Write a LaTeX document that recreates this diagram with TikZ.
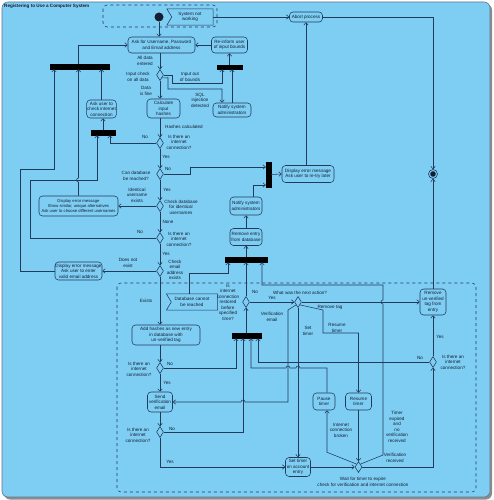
\documentclass[tikz,border=0pt]{standalone}
\usepackage{fontspec}
\setmainfont{Liberation Sans}
\usetikzlibrary{shapes.geometric,arrows.meta,calc}
\definecolor{bg}{RGB}{126,206,244}
\definecolor{ln}{RGB}{34,58,92}
\definecolor{tx}{RGB}{20,30,50}
\begin{document}
\begin{tikzpicture}[x=1pt,y=-1pt,
  font=\fontsize{4.6}{5.5}\selectfont,
  act/.style={draw=ln, rounded corners=3.5pt, align=center, inner sep=0.5pt, line width=0.55pt, text=tx},
  lab/.style={align=center, inner sep=0pt, text=tx},
  dec/.style={diamond, draw=ln, minimum width=7pt, minimum height=11pt, inner sep=0pt, line width=0.55pt},
  barh/.style={fill=black, draw=black, inner sep=0pt, line width=0.3pt},
  flow/.style={draw=ln, line width=0.55pt, -{Straight Barb[length=2.5pt,width=4.5pt]}},
  plain/.style={draw=ln, line width=0.55pt},
]
\useasboundingbox (0,0) rectangle (493,500);
\fill[black!45, rounded corners=6pt] (4,4) rectangle (492,499.5);
\draw[draw=ln!70, fill=bg, rounded corners=6pt, line width=0.6pt] (2,2) rectangle (490,497);
\node[anchor=west, font=\bfseries\fontsize{4.6}{5.5}\selectfont, text=tx, inner sep=0] (title) at (4,6.5) {Registering to Use a Computer System};

% regions
\draw[ln, dashed, line width=0.55pt, rounded corners=4pt] (103,5) rectangle (217,27);
\draw[ln, dashed, line width=0.55pt, rounded corners=4pt] (117,283) rectangle (476,492);

% start / end
\node[circle, fill=tx, minimum size=9pt, inner sep=0] (init) at (159,17) {};
\node[circle, draw=ln, line width=0.6pt, minimum size=9pt, inner sep=0] (final) at (433,174) {};
\fill[tx] (final) circle (2.8);

% accept event shapes
\node[lab, minimum width=46pt, minimum height=16pt] (snw) at (190,17) {System not\\working};
\draw[plain] (snw.north west) -- (snw.north east) -- (snw.south east) -- (snw.south west) -- ($(snw.west)+(5,0)$) -- cycle;
\node[lab, minimum width=51pt, minimum height=16pt] (dbcr) at (192,302) {Database cannot\\be reached};
\draw[plain] (dbcr.north west) -- (dbcr.north east) -- (dbcr.south east) -- (dbcr.south west) -- ($(dbcr.west)+(5,0)$) -- cycle;

% actions
\node[act, minimum width=67pt, minimum height=16pt] (ask) at (161.5,45) {Ask for Username, Password\\and Email address};
\node[act, minimum width=36pt, minimum height=16pt] (reinf) at (229.5,45) {Re-inform user\\of input bounds};
\node[act, minimum width=33pt, minimum height=10pt] (abort) at (306,17) {Abort process};
\node[act, minimum width=33pt, minimum height=19pt] (calc) at (163.5,108.5) {Calculate\\input\\hashes};
\node[act, minimum width=38pt, minimum height=14pt] (notify1) at (232,110) {Notify system\\administrators};
\node[act, minimum width=29pt, minimum height=18pt] (askinet) at (101.5,109) {Ask user to\\check internet\\connection};
\node[act, minimum width=52pt, minimum height=17pt] (retry) at (308,174) {Display error message\\Ask user to re-try later};
\node[act, minimum width=79pt, minimum height=20pt, font=\fontsize{4.2}{5.4}\selectfont] (similar) at (78.5,206) {Display error message\\Show similar, unique alternatives\\Ask user to choose different usernames};
\node[act, minimum width=47pt, minimum height=18pt] (email) at (78.5,271) {Display error message\\Ask user to enter\\valid email address};
\node[act, minimum width=32pt, minimum height=18pt] (notify2) at (246,206) {Notify system\\administrators};
\node[act, minimum width=32pt, minimum height=17pt] (remove) at (246,237) {Remove entry\\from database};
\node[act, minimum width=68pt, minimum height=20pt] (addh) at (166,335) {Add hashes as new entry\\in database with\\un-verified tag};
\node[act, minimum width=25pt, minimum height=20pt] (send) at (160,402) {Send\\verification\\email};
\node[act, minimum width=25pt, minimum height=19pt] (settimer) at (298,467) {Set timer\\on account\\entry};
\node[act, minimum width=22pt, minimum height=17pt] (pause) at (324,401.5) {Pause\\timer};
\node[act, minimum width=26pt, minimum height=17pt] (resume) at (358.5,401.5) {Resume\\timer};
\node[act, minimum width=26pt, minimum height=26pt] (rtag) at (433,302) {Remove\\un-verified\\tag from\\entry};

% decisions
\node[dec] (d1) at (160,75) {};
\node[dec] (d2) at (160,143) {};
\node[dec] (d4) at (160,174) {};
\node[dec] (d5) at (160,206) {};
\node[dec] (d3) at (160,238) {};
\node[dec] (d6) at (160,271) {};
\node[dec] (d7) at (160,368) {};
\node[dec] (d8) at (160,432) {};
\node[dec] (drest) at (246,302) {};
\node[dec] (dnext) at (298,302) {};
\node[dec] (d9) at (433,362) {};
\node[dec] (dwait) at (358.5,467) {};

% bars
\node[barh, minimum width=59pt, minimum height=5pt] (bar1) at (79.5,66.5) {};
\node[barh, minimum width=25pt, minimum height=4pt] (barr) at (229.5,67) {};
\node[barh, minimum width=24pt, minimum height=5pt] (bar2) at (103,132.5) {};
\node[barh, minimum width=5pt, minimum height=25pt] (bar3) at (268.5,174.5) {};
\node[barh, minimum width=42pt, minimum height=5pt] (bar4) at (246,259.5) {};
\node[barh, minimum width=29pt, minimum height=5pt] (bar5) at (246.5,335.5) {};

% edges top part
\draw[flow] (init) -- (init |- ask.north);
\draw[flow] (snw.east) -- (abort.west);
\draw[flow] (abort.east) -| (final.north);
\draw[flow] (ask.south -| d1) -- (d1.north);
\draw[flow] (d1.south) -- (d1 |- calc.north);
\draw[flow] (d1.east) -- (172,75) -- (172,83) -- (222,83) -- (222,0 |- barr.south);
\draw[flow] (d1.south east) -- (168,77.75) -- (168,89) -- (222,89) -- (222,0 |- notify1.north);
\draw[flow] (notify1.north) -- (notify1.north |- barr.south);
\draw[flow] (barr.north) -- (reinf.south);
\draw[flow] (reinf.west) -- (ask.east);
\draw[flow] (calc.south -| d2) -- (d2.north);
\draw[flow] (d2.south) -- (d4.north);
\draw[flow] (d4.south) -- (d5.north);
\draw[flow] (d5.south) -- (d3.north);
\draw[flow] (d3.south) -- (d6.north);
\draw[flow] (d2.west) -| ([xshift=7pt]bar2.south);
\draw[flow] (bar2.north) -- (bar2.north |- askinet.south);
\draw[flow] (askinet.north) -- (askinet.north |- bar1.south);
\draw[flow] ([xshift=-1.5pt]bar1.north) |- (ask.west);
\draw[flow] (similar.north) -- (78.5,182) arc[start angle=90, end angle=270, radius=2] -- (78.5,0 |- bar1.south);
\draw[flow] (d3.west) -- (30,238) -- (30,180) -- (97,180) -- ([xshift=-6pt]bar2.south);
\draw[flow] (email.west) -- (20,271) -- (20,169) -- (54,169) -- (54,0 |- bar1.south);
\draw[flow] (d5.west) -- (similar.east);
\draw[flow] (d6.west) -- (email.east);
\draw[flow] (d4.east) -- (190,174) -- (190,167) -- ([yshift=7.5pt]bar3.west);
\draw[flow] ([xshift=7pt]notify2.north) |- ([yshift=-10.5pt]bar3.west);
\draw[flow] (bar3.east) -- (retry.west);
\draw[flow] ([xshift=-2pt]retry.north) -- (abort.south);
\draw[flow] (remove.north) -- (notify2.south);
\draw[flow] (bar4.north) -- (remove.south);

% edges lower part
\draw[flow] (d6.south) -- (d6 |- addh.north);
\draw[flow] ([xshift=-3pt]dbcr.north) -- ++(0,-21) -| ([xshift=-18pt]bar4.south);
\draw[flow] (drest.north) -- (bar4.south);
\draw[flow] (dwait.north east) -- (383,455) -- (383,304) arc[start angle=90, end angle=270, radius=2] -- (383,285) -- (262,285) -- ([xshift=16pt]bar4.south);
\draw[flow] (drest.east) -- (dnext.west);
\draw[flow] (drest |- bar5.north) -- (drest.south);
\draw[flow] (addh.south -| d7) -- (d7.north);
\draw[flow] (d7.south) -- (send.north);
\draw[flow] (send.south) -- (d8.north);
\draw[flow] (d7.east) -| ([xshift=-10.5pt]bar5.south);
\draw[flow] (d8.east) -| ([xshift=-3.5pt]bar5.south);
\draw[flow] (d8.south) |- (settimer.west);
\draw[flow] (settimer.east) -- (dwait.west);
\draw[flow] (dnext.south) -- (settimer.north);
\draw[flow] (dnext.south west) -- (288,310) -- (288,402) -- (245,402) arc[start angle=0, end angle=-180, radius=2] -- (send.east);
\draw[flow] (dnext.east) -- (rtag.west);
\draw[flow] (dnext.south east) -- (323,310) -- (323,333) -- (358.5,333) -- (resume.north);
\draw[flow] ([xshift=3pt]pause.north) -- (327,368) -- (300,368) arc[start angle=0, end angle=-180, radius=2] -- (290,368) arc[start angle=0, end angle=-180, radius=2] -- (251,368) -- ([xshift=4.5pt]bar5.south);
\draw[flow] (dwait.north west) -- ($(pause.south)+(3,42)$) -- ([xshift=3pt]pause.south);
\draw[flow] (resume.south) -- (dwait.north);
\draw[flow] (dwait.east) -| (d9.south);
\draw[flow] (d9.north) -- (rtag.south);
\draw[flow] (rtag.north) -- (final.south);
\draw[flow] (d9.west) -- (258,362) -- ([xshift=11.5pt]bar5.south);

% labels
\node[lab] (l1) at (145,61) {All data\\entered};
\node[lab] (l2) at (138,77) {Input check\\on all data};
\node[lab] (l3) at (146,91) {Data\\is fine};
\node[lab] (l4) at (190,77) {Input out\\of bounds};
\node[lab] (l5) at (200,100) {SQL\\injection\\detected};
\node[lab, anchor=west] (l6) at (165,126.5) {Hashes calculated};
\node[lab] (l7) at (179,142) {Is there an\\internet\\connection?};
\node[lab] (l8) at (145,137) {No};
\node[lab] (l9) at (166,157) {Yes};
\node[lab] (l10) at (136,176) {Can database\\be reached?};
\node[lab] (l11) at (168,169) {No};
\node[lab] (l12) at (167,190) {Yes};
\node[lab] (l13) at (181,207) {Check database\\for identical\\usernames};
\node[lab] (l14) at (137,195) {Identical\\username\\exists};
\node[lab] (l15) at (168,222) {None};
\node[lab] (l16) at (179,239) {Is there an\\internet\\connection?};
\node[lab] (l17) at (140,232) {No};
\node[lab] (l18) at (166,254) {Yes};
\node[lab] (l19) at (175,270) {Check\\email\\address\\exists};
\node[lab] (l20) at (128,263) {Does not\\exist};
\node[lab] (l21) at (146,301) {Exists};
\node[lab] (l22) at (139,369) {Is there an\\internet\\connection?};
\node[lab] (l23) at (170,364) {No};
\node[lab] (l24) at (167,383) {Yes};
\node[lab] (l25) at (138,435) {Is there an\\internet\\connection?};
\node[lab] (l26) at (172,429) {No};
\node[lab] (l27) at (170,462) {Yes};
\node[lab] (l28) at (228,302) {Is\\internet\\connection\\restored\\before\\specified\\time?};
\node[lab] (l29) at (255,292) {No};
\node[lab] (l30) at (272,298) {Yes};
\node[lab] (l31) at (300,293) {What was the next action?};
\node[lab] (l32) at (272,317) {Verification\\email};
\node[lab] (l33) at (308,331) {Set\\timer};
\node[lab] (l34) at (330,307) {Remove tag};
\node[lab] (l35) at (337,328) {Resume\\timer};
\node[lab] (l36) at (341,430) {Internet\\connection\\broken};
\node[lab] (l37) at (397,427) {Timer\\expired\\and\\no\\verification\\received};
\node[lab] (l38) at (395,458) {Verification\\received};
\node[lab] (l39) at (363,482) {Wait for timer to expire\\check for verification and internet connection};
\node[lab] (l40) at (440,337) {Yes};
\node[lab] (l41) at (420,358) {No};
\node[lab] (l42) at (453,362) {Is there an\\internet\\connection?};
\end{tikzpicture}
\end{document}
